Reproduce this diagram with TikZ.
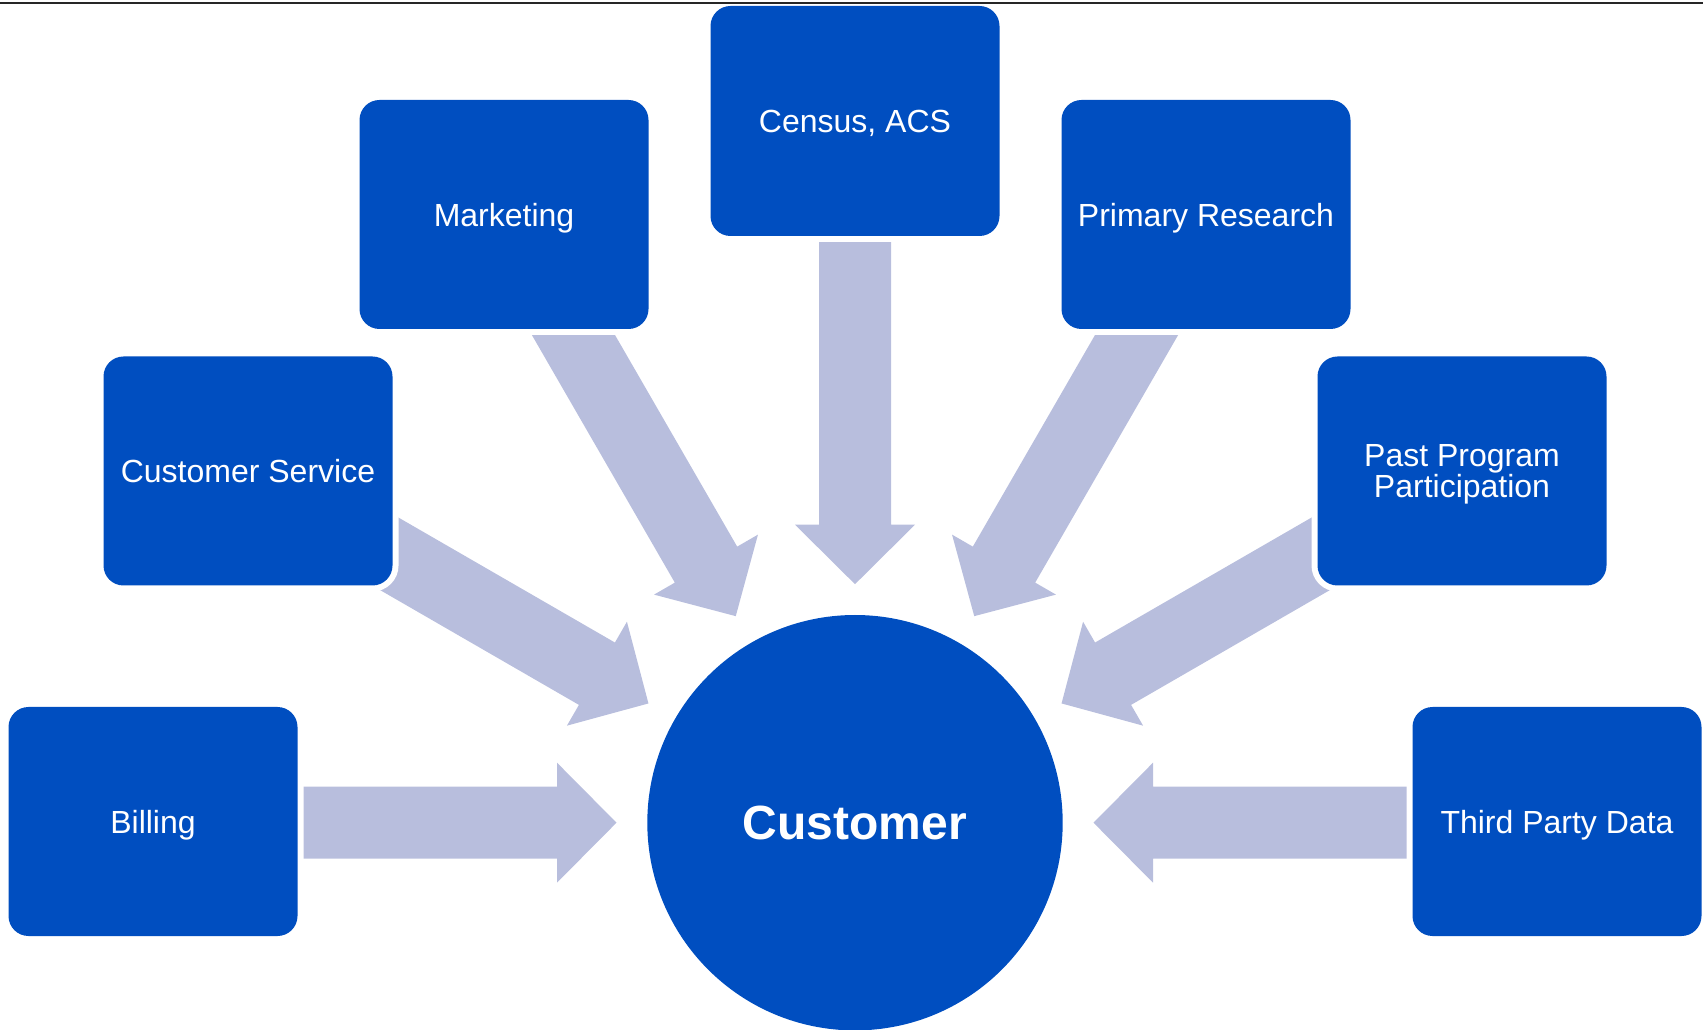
\documentclass[tikz,border=0pt]{standalone}
\usepackage{fontspec}
\setmainfont{Liberation Sans}
\begin{document}
\definecolor{boxblue}{RGB}{0,78,192}
\definecolor{arrowlav}{RGB}{184,190,221}
\begin{tikzpicture}[x=1pt,y=1pt,
  srcbox/.style={rectangle, rounded corners=20pt, fill=boxblue,
    preaction={draw=white, line width=12pt},
    minimum width=289pt, minimum height=229pt, inner sep=0pt,
    text=white, align=center, text depth=0pt,
    font=\fontsize{32}{31.5}\selectfont},
  hub/.style={circle, fill=boxblue, minimum size=415.4pt, inner sep=0pt,
    text=white, font=\fontsize{48}{50}\selectfont\bfseries},
  blockarrow/.style={fill=arrowlav}]
\useasboundingbox (0,0) rectangle (1703,1029);

% central hub
\node[hub] (cust) at (855,206.3) {Customer};

% block arrows pointing radially into the hub (tails tucked under the boxes)
\foreach \ang in {0,30,60,90,120,150,180}{
  \begin{scope}[shift={(cust.center)}, rotate=\ang]
    \fill[blockarrow] (600,36) -- (298,36) -- (298,60) -- (238.5,0)
      -- (298,-60) -- (298,-36) -- (600,-36) -- cycle;
  \end{scope}
}

% data sources
\node[srcbox, minimum height=230pt] (census) at (855,908) {Census, ACS};
\node[srcbox] (mkt)     at (504,814.5)  {Marketing};
\node[srcbox] (primary) at (1206,814.5) {Primary Research};
\node[srcbox] (cs)      at (248,558)    {Customer Service};
\node[srcbox] (past)    at (1462,558)   {Past Program\\Participation};
\node[srcbox] (billing) at (153,207.5)  {Billing};
\node[srcbox] (third)   at (1557,207.5) {Third Party Data};

% rule along the top edge
\draw[line width=2pt, black!85] (0,1026) -- (1703,1026);
\end{tikzpicture}
\end{document}
